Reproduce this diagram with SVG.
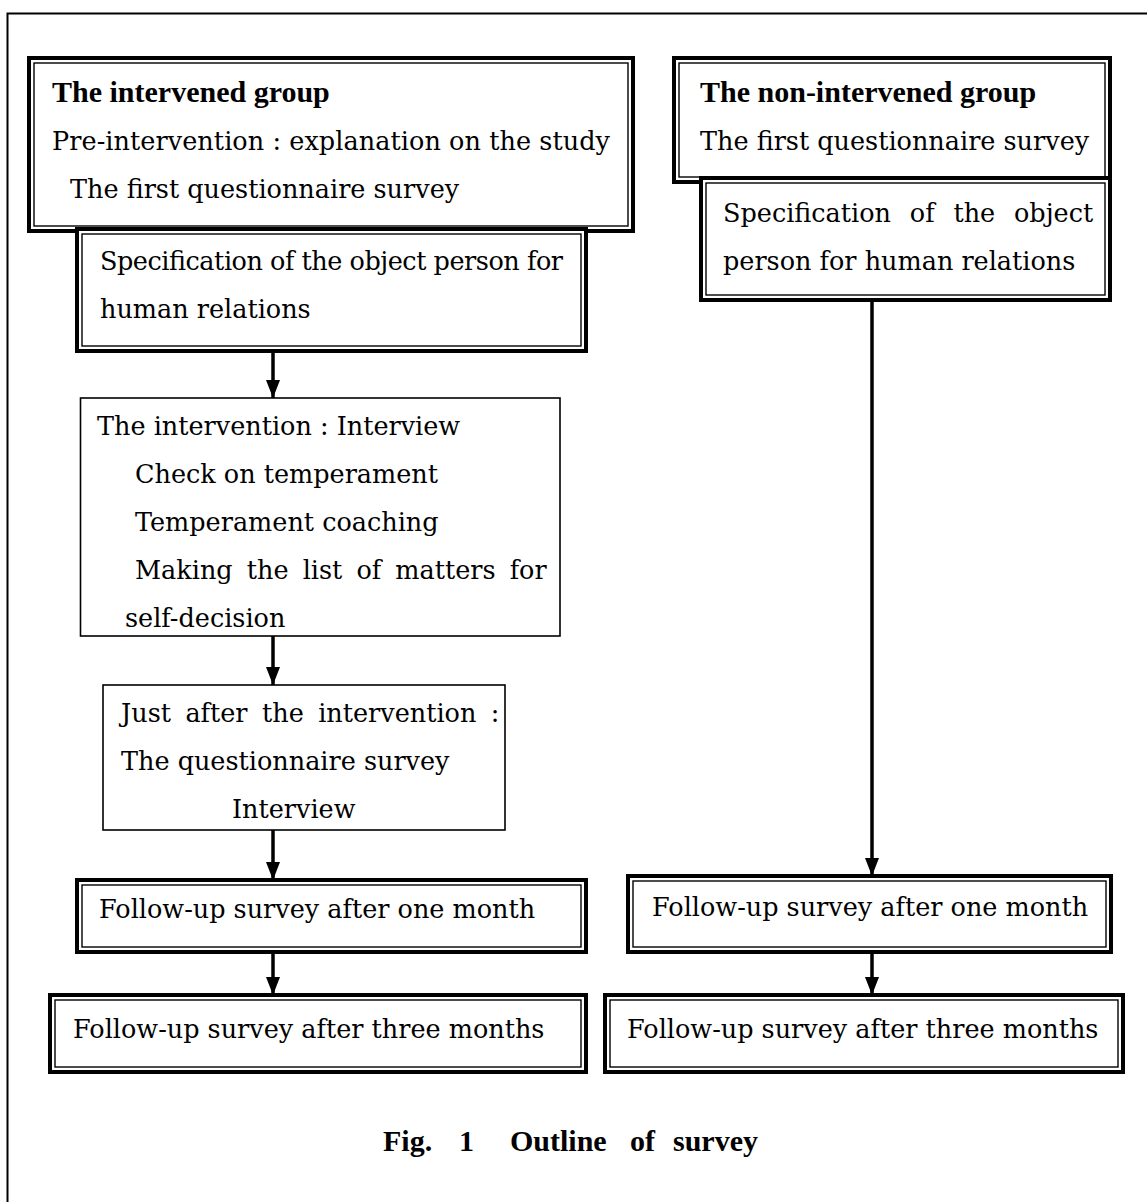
<svg xmlns="http://www.w3.org/2000/svg" width="1147" height="1202" viewBox="0 0 1147 1202">
<style>
.o{fill:#fff;stroke:#000;stroke-width:4}
.i{fill:none;stroke:#000;stroke-width:1.4}
.s{fill:#fff;stroke:#000;stroke-width:1.6}
.t{font-family:"DejaVu Serif",serif;font-size:25.5px;fill:#000}
.b{font-family:"Liberation Serif",serif;font-weight:bold;font-size:30px;fill:#000}
.c{stroke:#000;stroke-width:3.5;fill:none}
</style>
<defs>
<marker id="ah" markerUnits="userSpaceOnUse" viewBox="0 -7 18 14" refX="18" refY="0" markerWidth="18" markerHeight="14" orient="auto">
<path d="M0,-7 L18,0 L0,7 z" fill="#000"/>
</marker>
</defs>
<rect x="7.5" y="13.5" width="1300" height="1300" fill="none" stroke="#000" stroke-width="2"/>

<g id="intervened-group">
<rect class="o" x="29" y="58" width="604" height="173"/>
<rect class="i" x="34" y="63" width="594" height="163"/>
<text class="b" x="52" y="102">The intervened group</text>
<text class="t" x="52" y="150" textLength="558" lengthAdjust="spacing">Pre-intervention : explanation on the study</text>
<text class="t" x="70" y="198">The first questionnaire survey</text>
</g>
<g id="spec-left">
<rect class="o" x="77" y="229" width="509" height="122"/>
<rect class="i" x="82" y="234" width="499" height="112"/>
<text class="t" x="100" y="270" textLength="463" lengthAdjust="spacing">Specification of the object person for</text>
<text class="t" x="100" y="318">human relations</text>
</g>
<g id="intervention">
<rect class="s" x="80.5" y="398" width="479.5" height="238"/>
<text class="t" x="97" y="435">The intervention : Interview</text>
<text class="t" x="135" y="483">Check on temperament</text>
<text class="t" x="135" y="531">Temperament coaching</text>
<text class="t" x="135" y="579" word-spacing="6">Making the list of matters for</text>
<text class="t" x="125" y="627">self-decision</text>
</g>
<g id="just-after">
<rect class="s" x="103" y="685" width="402" height="145"/>
<text class="t" x="121" y="722" word-spacing="6.3">Just after the intervention :</text>
<text class="t" x="121" y="770">The questionnaire survey</text>
<text class="t" x="232" y="818">Interview</text>
</g>
<g id="followup1-left">
<rect class="o" x="77" y="880" width="509" height="72"/>
<rect class="i" x="82" y="885" width="499" height="62"/>
<text class="t" x="99" y="918">Follow-up survey after one month</text>
</g>
<g id="followup3-left">
<rect class="o" x="50" y="995" width="536" height="77"/>
<rect class="i" x="55" y="1000" width="526" height="67"/>
<text class="t" x="73" y="1038">Follow-up survey after three months</text>
</g>

<g id="non-intervened-group">
<rect class="o" x="674" y="58" width="436" height="124"/>
<rect class="i" x="679" y="63" width="426" height="114"/>
<text class="b" x="700" y="102">The non-intervened group</text>
<text class="t" x="700" y="150">The first questionnaire survey</text>
</g>
<g id="spec-right">
<rect class="o" x="701" y="178" width="409" height="122"/>
<rect class="i" x="706" y="183" width="399" height="112"/>
<text class="t" x="723" y="222" word-spacing="10.7">Specification of the object</text>
<text class="t" x="723" y="270">person for human relations</text>
</g>
<g id="followup1-right">
<rect class="o" x="628" y="876" width="483" height="76"/>
<rect class="i" x="633" y="881" width="473" height="66"/>
<text class="t" x="652" y="916">Follow-up survey after one month</text>
</g>
<g id="followup3-right">
<rect class="o" x="605" y="995" width="518" height="77"/>
<rect class="i" x="610" y="1000" width="508" height="67"/>
<text class="t" x="627" y="1038">Follow-up survey after three months</text>
</g>

<g id="connectors">
<line class="c" x1="273" y1="352" x2="273" y2="398" marker-end="url(#ah)"/>
<line class="c" x1="273" y1="636" x2="273" y2="685" marker-end="url(#ah)"/>
<line class="c" x1="273" y1="830" x2="273" y2="880" marker-end="url(#ah)"/>
<line class="c" x1="273" y1="952" x2="273" y2="995" marker-end="url(#ah)"/>
<line class="c" x1="872" y1="301" x2="872" y2="876" marker-end="url(#ah)"/>
<line class="c" x1="872" y1="952" x2="872" y2="995" marker-end="url(#ah)"/>
</g>

<g id="caption">
<text class="b" y="1151"><tspan x="383">Fig.</tspan><tspan x="459">1</tspan><tspan x="510">Outline</tspan><tspan x="630">of</tspan><tspan x="673">survey</tspan></text>
</g>
</svg>
